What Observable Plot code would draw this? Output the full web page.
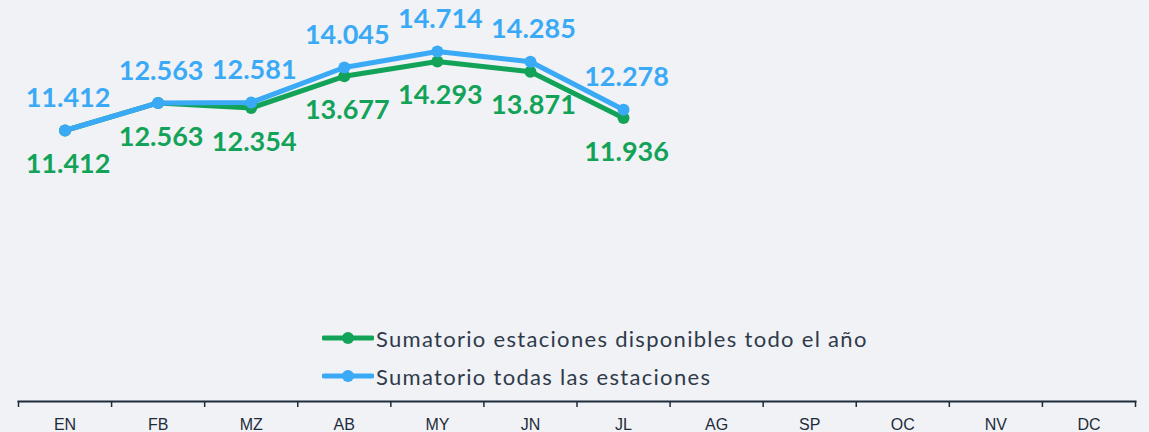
<!DOCTYPE html>
<html>
<head>
<meta charset="utf-8">
<script src="https://cdn.jsdelivr.net/npm/d3@7"></script>
<script src="https://cdn.jsdelivr.net/npm/@observablehq/plot@0.6"></script>
<style>
  html, body { margin: 0; padding: 0; background: #f0f2f6; }
  #wrap { position: relative; width: 1149px; height: 432px; overflow: hidden; background: #f0f2f6; }
  #legend { position: absolute; left: 322px; top: 319px; font-family: Lato, sans-serif; font-size: 22px; letter-spacing: 1.3px; color: #2f3a4a; }
  .item { display: flex; align-items: center; height: 38px; }
  .item svg { margin-right: 2px; }
</style>
</head>
<body>
<div id="wrap"><div id="chart"></div><div id="legend"></div></div>
<script>
const months = ["EN","FB","MZ","AB","MY","JN","JL","AG","SP","OC","NV","DC"];
const dataMonths = ["EN","FB","MZ","AB","MY","JN","JL"];
const disponibles = [11.412, 12.563, 12.354, 13.677, 14.293, 13.871, 11.936];
const todas = [11.412, 12.563, 12.581, 14.045, 14.714, 14.285, 12.278];
const seriesNames = ["Sumatorio estaciones disponibles todo el año", "Sumatorio todas las estaciones"];
const colors = ["#12a358", "#3aa9f6"];

const fmt = v => v.toFixed(3);
const idx = m => months.indexOf(m) + 0.5;
const green = dataMonths.map((m, i) => ({x: idx(m), v: disponibles[i]}));
const blue = dataMonths.map((m, i) => ({x: idx(m), v: todas[i]}));

const labelFont = "Lato, sans-serif";
const chart = Plot.plot({
  width: 1149,
  height: 432,
  marginLeft: 18,
  marginRight: 14,
  marginTop: 0,
  marginBottom: 31,
  style: {background: "transparent", fontFamily: "'Liberation Sans', Arial, sans-serif"},
  x: {type: "linear", domain: [0, 12], range: [18, 1135], axis: null},
  y: {type: "linear", domain: [11.412, 14.714], range: [130, 51], axis: null},
  marks: [
    Plot.frame({anchor: "bottom", stroke: "#1e2b3a", strokeWidth: 2}),
    Plot.axisX({ticks: d3.range(13), tickFormat: () => "", tickSize: 6, stroke: "#1e2b3a", strokeWidth: 1.5, label: null}),
    Plot.axisX({ticks: months.map((m, i) => i + 0.5), tickFormat: d => months[Math.floor(d)], tickSize: 0, tickPadding: 17, fontSize: 16, fill: "#1e2b3a", label: null}),
    Plot.line(green, {x: "x", y: "v", stroke: colors[0], strokeWidth: 5}),
    Plot.dot(green, {x: "x", y: "v", r: 6, fill: colors[0]}),
    Plot.line(blue, {x: "x", y: "v", stroke: colors[1], strokeWidth: 5}),
    Plot.dot(blue, {x: "x", y: "v", r: 6, fill: colors[1]}),
    Plot.text(green, {x: "x", y: "v", text: d => fmt(d.v), dy: 34, dx: 3, fill: colors[0], fontSize: 27, fontWeight: "bold", fontFamily: labelFont, lineAnchor: "middle"}),
    Plot.text(blue, {x: "x", y: "v", text: d => fmt(d.v), dy: -32, dx: 3, fill: colors[1], fontSize: 27, fontWeight: "bold", fontFamily: labelFont, lineAnchor: "middle"})
  ]
});
document.getElementById("chart").appendChild(chart);

const legend = document.getElementById("legend");
seriesNames.forEach((name, i) => {
  const div = document.createElement("div");
  div.className = "item";
  div.innerHTML = `<svg width="52" height="14"><line x1="2" x2="50" y1="7" y2="7" stroke="${colors[i]}" stroke-width="5" stroke-linecap="round"/><circle cx="26" cy="7" r="6" fill="${colors[i]}"/></svg><span>${name}</span>`;
  legend.appendChild(div);
});
</script>
</body>
</html>
